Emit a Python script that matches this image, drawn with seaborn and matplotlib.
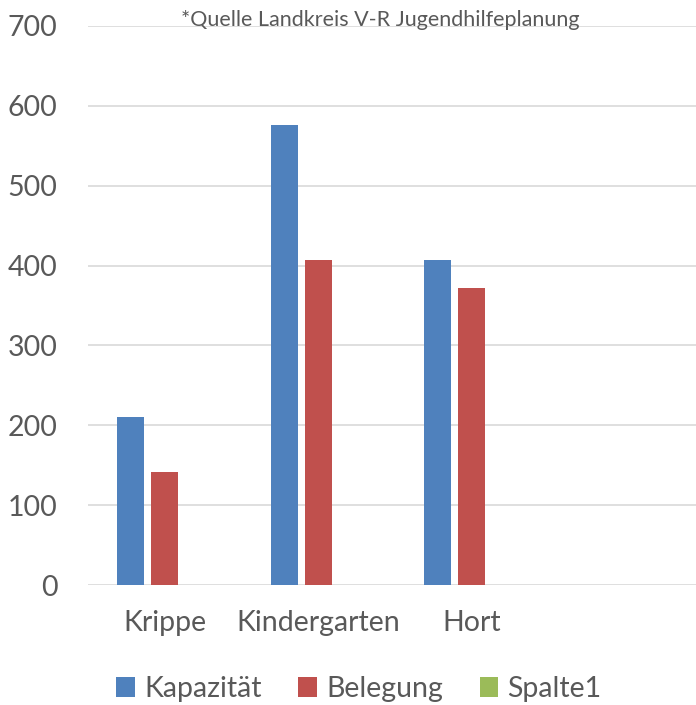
import matplotlib
matplotlib.use("Agg")
import matplotlib.pyplot as plt
import seaborn as sns
import pandas as pd

categories = ["Krippe", "Kindergarten", "Hort"]
series = ["Kapazität", "Belegung", "Spalte1"]
kapazitaet = [210, 576, 407]
belegung = [141, 407, 372]
spalte1 = [0, 0, 0]
y_ticks = [0, 100, 200, 300, 400, 500, 600, 700]
source_note = "*Quelle Landkreis V-R Jugendhilfeplanung"

colors = ["#4F81BD", "#C0504D", "#9BBB59"]
text_color = "#595959"

sns.set_theme(style="white")
plt.rcParams["font.family"] = ["Lato", "DejaVu Sans"]

df = pd.DataFrame({
    "Kategorie": categories * 3,
    "Serie": [series[0]] * 3 + [series[1]] * 3 + [series[2]] * 3,
    "Wert": kapazitaet + belegung + spalte1,
})

W, H = 696, 705
fig = plt.figure(figsize=(W / 100, H / 100), dpi=100)
ax = fig.add_axes([88 / W, 120 / H, 614 / W, 559 / H])

sns.barplot(data=df, x="Kategorie", y="Wert", hue="Serie", order=categories,
            hue_order=series, palette=colors, saturation=1, width=0.664, gap=0.206,
            linewidth=0, errorbar=None, ax=ax, legend=True)

ax.set_xlim(-0.5, 3.5)
ax.set_ylim(0, 700)
ax.set_yticks(y_ticks)
ax.yaxis.grid(True, color="#D9D9D9", linewidth=1.2)
ax.set_axisbelow(True)
for s in ax.spines.values():
    s.set_visible(False)
ax.set_xlabel("")
ax.set_ylabel("")
ax.tick_params(axis="y", length=0, pad=22, labelsize=20.5, labelcolor=text_color)
ax.tick_params(axis="x", length=0, pad=18, labelsize=20.5, labelcolor=text_color)

handles, labels = ax.get_legend_handles_labels()
ax.get_legend().remove()
fig.legend(handles, labels, loc="center", bbox_to_anchor=(359 / W, 1 - 689 / H),
           ncol=3, frameon=False, fontsize=20.5, labelcolor=text_color,
           handlelength=0.65, handleheight=0.65, handletextpad=0.32,
           columnspacing=1.3, borderpad=0, borderaxespad=0)

fig.text(380 / W, 1 - 26 / H, source_note, ha="center", va="baseline",
         fontsize=15.5, color=text_color)

fig.savefig("out.png", dpi=100)
